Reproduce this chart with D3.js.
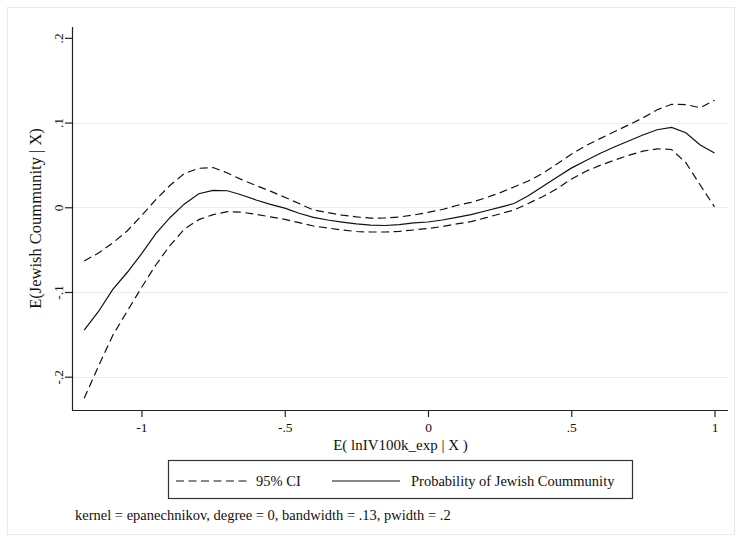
<!DOCTYPE html>
<html>
<head>
<meta charset="utf-8">
<script src="https://cdn.jsdelivr.net/npm/d3@7"></script>
<style>
  html, body { margin: 0; padding: 0; background: #fff; }
  svg { display: block; }
  text { font-family: "Liberation Serif", "DejaVu Serif", serif; fill: #111; }
</style>
</head>
<body>
<script>
// ---- data ----
const xValues = [-1.2, -1.15, -1.1, -1.05, -1.0, -0.95, -0.9, -0.85, -0.8, -0.75,
  -0.7, -0.65, -0.6, -0.55, -0.5, -0.45, -0.4, -0.35, -0.3, -0.25,
  -0.2, -0.15, -0.1, -0.05, 0.0, 0.05, 0.1, 0.15, 0.2, 0.25,
  0.3, 0.35, 0.4, 0.45, 0.5, 0.55, 0.6, 0.65, 0.7, 0.75,
  0.8, 0.85, 0.9, 0.95, 1.0];
const estimate = [-0.145, -0.123, -0.097, -0.077, -0.055, -0.031, -0.012, 0.004, 0.016, 0.020,
  0.0195, 0.0145, 0.0086, 0.0035, -0.001, -0.007, -0.012, -0.015, -0.0175, -0.0197,
  -0.021, -0.0215, -0.0205, -0.0185, -0.0174, -0.015, -0.012, -0.0087, -0.0044, -0.0002,
  0.0045, 0.0135, 0.0246, 0.0354, 0.0462, 0.0549, 0.0634, 0.0711, 0.0782, 0.0853,
  0.0915, 0.0942, 0.088, 0.0735, 0.064];
const upperCI = [-0.0634, -0.054, -0.042, -0.028, -0.010, 0.009, 0.026, 0.040, 0.046, 0.0469,
  0.0404, 0.0326, 0.0257, 0.019, 0.0119, 0.0044, -0.0032, -0.0063, -0.0093, -0.0113,
  -0.0129, -0.0126, -0.0115, -0.0091, -0.0061, -0.0026, 0.0021, 0.0057, 0.011, 0.0169,
  0.024, 0.031, 0.040, 0.051, 0.0625, 0.0726, 0.0810, 0.0891, 0.0972, 0.1055,
  0.1151, 0.1216, 0.1212, 0.1175, 0.1263];
const lowerCI = [-0.2255, -0.1875, -0.151, -0.1228, -0.0948, -0.0681, -0.0449, -0.0257, -0.0146, -0.0086,
  -0.0052, -0.0058, -0.0084, -0.0113, -0.0143, -0.0182, -0.0221, -0.0245, -0.0268, -0.0286,
  -0.0292, -0.0292, -0.0284, -0.0268, -0.025, -0.0227, -0.0197, -0.0169, -0.0126, -0.0079,
  -0.0032, 0.0045, 0.0125, 0.0219, 0.0332, 0.0423, 0.0494, 0.0556, 0.0613, 0.0662,
  0.069, 0.0682, 0.0526, 0.0263, 0.0004];
const xTicks = [-1, -0.5, 0, 0.5, 1];
const xTickLabels = ["-1", "-.5", "0", ".5", "1"];
const yTicks = [-0.2, -0.1, 0, 0.1, 0.2];
const yTickLabels = ["-.2", "-.1", "0", ".1", ".2"];
const yGridTicks = [-0.2, -0.1, 0, 0.1];
const legendLabels = ["95% CI", "Probability of Jewish Coummunity"];
const xTitle = "E( lnIV100k_exp | X )";
const yTitle = "E(Jewish Coummunity | X)";
const noteText = "kernel = epanechnikov, degree = 0, bandwidth = .13, pwidth = .2";

// ---- layout ----
const W = 742, H = 543;
const plot = { left: 73, right: 728, top: 27, bottom: 410 };

const svg = d3.select("body").append("svg").attr("width", W).attr("height", H);

// graph region outline
svg.append("rect").attr("x", 7.5).attr("y", 7.5).attr("width", 727).attr("height", 527)
  .attr("fill", "#fff").attr("stroke", "#e4ecee").attr("stroke-width", 1);

const x = d3.scaleLinear().domain([-1.239, 1.047]).range([plot.left, plot.right]);
const y = d3.scaleLinear().domain([-0.2393, 0.2128]).range([plot.bottom, plot.top]);

// gridlines
svg.append("g").selectAll("line").data(yGridTicks).join("line")
  .attr("x1", plot.left).attr("x2", plot.right)
  .attr("y1", d => Math.round(y(d)) + 0.5).attr("y2", d => Math.round(y(d)) + 0.5)
  .attr("stroke", "#e6f0f1").attr("stroke-width", 1.2);

// axes
const yAxis = d3.axisLeft(y).tickValues(yTicks).tickSize(8).tickFormat((d, i) => yTickLabels[i]);
const gy = svg.append("g").attr("transform", `translate(${plot.left},0)`).call(yAxis);
gy.select(".domain").attr("d", `M-0.5,${plot.top}V${plot.bottom}`).attr("stroke", "#222").attr("stroke-width", 1.2);
gy.selectAll(".tick line").attr("stroke", "#222").attr("stroke-width", 1.2);
gy.selectAll(".tick text")
  .attr("x", null).attr("dy", null)
  .attr("transform", "translate(-10,0) rotate(-90)")
  .attr("text-anchor", "middle")
  .attr("font-size", 13.5)
  .attr("fill", "#111");

const xAxis = d3.axisBottom(x).tickValues(xTicks).tickSize(7).tickFormat((d, i) => xTickLabels[i]);
const gx = svg.append("g").attr("transform", `translate(0,${plot.bottom})`).call(xAxis);
gx.select(".domain").attr("d", `M${plot.left - 1},0.5H${plot.right}`).attr("stroke", "#222").attr("stroke-width", 1.2);
gx.selectAll(".tick line").attr("stroke", "#222").attr("stroke-width", 1.2);
gx.selectAll(".tick text")
  .attr("y", 22).attr("dy", null)
  .attr("font-size", 13.5)
  .attr("fill", "#111");

// axis titles
svg.append("text").attr("x", (plot.left + plot.right) / 2).attr("y", 450)
  .attr("text-anchor", "middle").attr("font-size", 15).text(xTitle);
svg.append("text").attr("transform", `translate(41,${(plot.top + plot.bottom) / 2}) rotate(-90)`)
  .attr("text-anchor", "middle").attr("font-size", 16.5).text(yTitle);

// curves
const pts = arr => xValues.map((xv, i) => [xv, arr[i]]);
const line = d3.line().x(d => x(d[0])).y(d => y(d[1]));
svg.append("path").datum(pts(upperCI)).attr("d", line)
  .attr("fill", "none").attr("stroke", "#111").attr("stroke-width", 1.2).attr("stroke-dasharray", "8,4.5");
svg.append("path").datum(pts(lowerCI)).attr("d", line)
  .attr("fill", "none").attr("stroke", "#111").attr("stroke-width", 1.2).attr("stroke-dasharray", "8,4.5");
svg.append("path").datum(pts(estimate)).attr("d", line)
  .attr("fill", "none").attr("stroke", "#111").attr("stroke-width", 1.2);

// legend
const lg = svg.append("g");
lg.append("rect").attr("x", 168.5).attr("y", 460.5).attr("width", 464).attr("height", 38)
  .attr("fill", "#fff").attr("stroke", "#333").attr("stroke-width", 1.2);
const legY = 481;
lg.append("line").attr("x1", 176).attr("x2", 247).attr("y1", legY).attr("y2", legY)
  .attr("stroke", "#111").attr("stroke-width", 1.2).attr("stroke-dasharray", "8,4.5");
lg.append("text").attr("x", 256).attr("y", legY + 5).attr("font-size", 14.5).text(legendLabels[0]);
lg.append("line").attr("x1", 332).attr("x2", 400).attr("y1", legY).attr("y2", legY)
  .attr("stroke", "#111").attr("stroke-width", 1.2);
lg.append("text").attr("x", 411).attr("y", legY + 5).attr("font-size", 14.5).text(legendLabels[1]);

// note
svg.append("text").attr("x", 75).attr("y", 520).attr("font-size", 14.5).text(noteText);
</script>
</body>
</html>
